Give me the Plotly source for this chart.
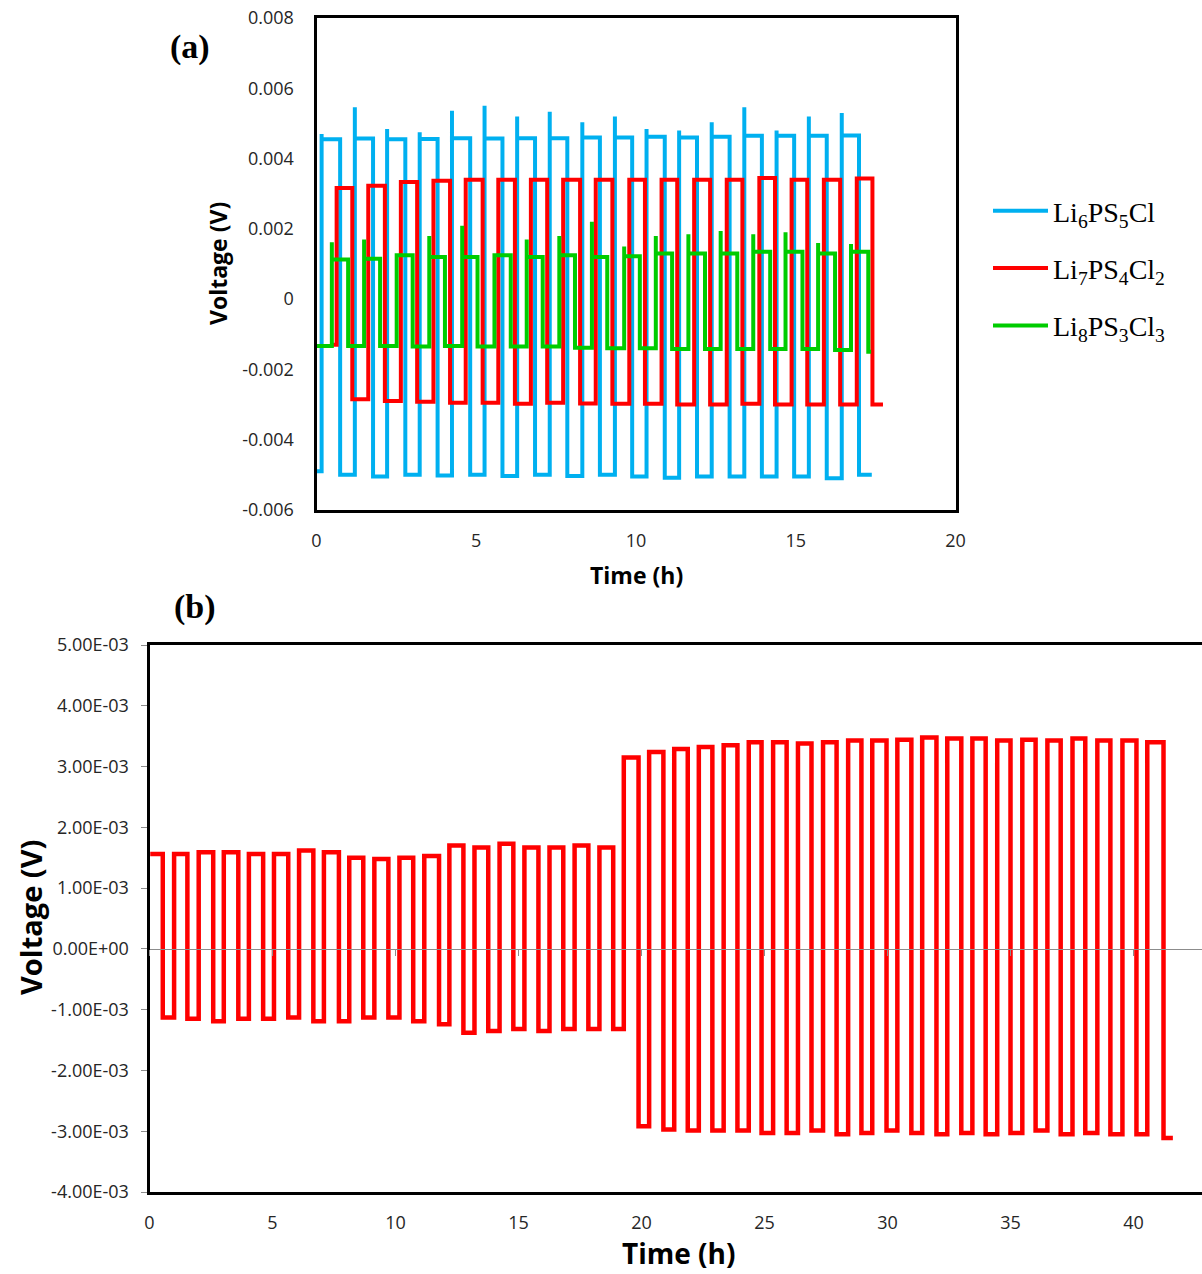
import plotly.graph_objects as go

# ---------------- Panel (a) data (time in h, voltage in V) ----------------
blue_name = "Li<sub>6</sub>PS<sub>5</sub>Cl"
blue_start = (0.0, -0.0049)
blue_end_t = 17.38
blue_rise_t = [0.16, 1.20, 2.21, 3.23, 4.24, 5.26, 6.28, 7.30, 8.32, 9.34, 10.33, 11.35, 12.37, 13.39, 14.40, 15.41, 16.44]
blue_fall_t = [0.74, 1.77, 2.78, 3.79, 4.81, 5.82, 6.84, 7.85, 8.87, 9.88, 10.90, 11.91, 12.93, 13.94, 14.95, 15.97, 16.98]
blue_high_v = [0.00455, 0.00457, 0.00455, 0.00456, 0.00458, 0.00457, 0.00458, 0.00458, 0.00460, 0.00460,
               0.00462, 0.00460, 0.00462, 0.00465, 0.00465, 0.00465, 0.00466]
blue_spike_v = [0.00470, 0.00546, 0.00484, 0.00475, 0.00536, 0.00550, 0.00520, 0.00533, 0.00503, 0.00520,
                0.00484, 0.00480, 0.00503, 0.00546, 0.00480, 0.00520, 0.00530]
blue_low_v = [-0.00500, -0.00505, -0.00500, -0.00502, -0.00500, -0.00503, -0.00500, -0.00503, -0.00500, -0.00505,
              -0.00508, -0.00505, -0.00505, -0.00505, -0.00505, -0.00510, -0.00500]

red_name = "Li<sub>7</sub>PS<sub>4</sub>Cl<sub>2</sub>"
red_start = (0.50, -0.0013)
red_end_t = 17.73
red_rise_t = [0.63, 1.62, 2.64, 3.66, 4.67, 5.69, 6.71, 7.72, 8.74, 9.79, 10.80, 11.82, 12.84, 13.86, 14.87, 15.88, 16.91]
red_fall_t = [1.12, 2.14, 3.15, 4.18, 5.20, 6.21, 7.22, 8.25, 9.26, 10.28, 11.29, 12.32, 13.33, 14.35, 15.36, 16.39, 17.40]
red_high_v = [0.00316, 0.00323, 0.00333, 0.00337, 0.00340, 0.00340, 0.00340, 0.00340, 0.00340, 0.00340,
              0.00340, 0.00340, 0.00340, 0.00345, 0.00340, 0.00340, 0.00343]
red_low_v = [-0.00285, -0.00290, -0.00292, -0.00295, -0.00295, -0.00298, -0.00295, -0.00297, -0.00298, -0.00298,
             -0.00300, -0.00300, -0.00298, -0.00300, -0.00300, -0.00300, -0.00300]

green_name = "Li<sub>8</sub>PS<sub>3</sub>Cl<sub>3</sub>"
green_start = (0.0, -0.00133)
green_end_t = 17.36
green_rise_t = [0.48, 1.49, 2.51, 3.53, 4.56, 5.57, 6.58, 7.60, 8.62, 9.63, 10.62, 11.64, 12.65, 13.67, 14.68, 15.70, 16.73]
green_fall_t = [0.99, 1.99, 3.01, 4.02, 5.04, 6.08, 7.08, 8.09, 9.10, 10.12, 11.13, 12.16, 13.17, 14.20, 15.21, 16.23, 17.27]
green_high_v = [0.00113, 0.00115, 0.00125, 0.00120, 0.00120, 0.00125, 0.00120, 0.00125, 0.00120, 0.00122,
                0.00130, 0.00130, 0.00130, 0.00135, 0.00135, 0.00130, 0.00135]
green_spike_v = [0.00162, 0.00170, 0.00125, 0.00180, 0.00209, 0.00125, 0.00170, 0.00180, 0.00220, 0.00150,
                 0.00180, 0.00185, 0.00194, 0.00185, 0.00190, 0.00160, 0.00157]
green_low_v = [-0.00133, -0.00133, -0.00135, -0.00133, -0.00135, -0.00135, -0.00135, -0.00138, -0.00140, -0.00140,
               -0.00142, -0.00142, -0.00142, -0.00142, -0.00142, -0.00145, -0.00150]

a_xticks = [0, 5, 10, 15, 20]
a_yticks = [-0.006, -0.004, -0.002, 0, 0.002, 0.004, 0.006, 0.008]
a_yticktext = ["-0.006", "-0.004", "-0.002", "0", "0.002", "0.004", "0.006", "0.008"]

# ---------------- Panel (b) data ----------------
b_start_t = 0.03
b_end_t = 41.60
b_rise_t = [1.00, 2.00, 3.02, 4.04, 5.06, 6.08, 7.09, 8.12, 9.14, 10.16, 11.17, 12.19, 13.21, 14.23, 15.24,
            16.26, 17.28, 18.29, 19.28, 20.31, 21.33, 22.33, 23.34, 24.36, 25.35, 26.36, 27.38, 28.40, 29.38,
            30.40, 31.41, 32.43, 33.45, 34.46, 35.48, 36.50, 37.52, 38.53, 39.55, 40.56]
b_fall_t = [0.54, 1.54, 2.59, 3.61, 4.62, 5.64, 6.66, 7.70, 8.69, 9.71, 10.72, 11.77, 12.76, 13.77, 14.79,
            15.81, 16.82, 17.84, 18.85, 19.88, 20.89, 21.88, 22.88, 23.90, 24.88, 25.90, 26.91, 27.93, 28.94,
            29.96, 30.97, 31.99, 33.00, 33.99, 35.00, 36.02, 37.04, 38.04, 39.06, 40.12, 41.22]
b_high_v = [1.56e-3, 1.56e-3, 1.59e-3, 1.59e-3, 1.56e-3, 1.56e-3, 1.62e-3, 1.59e-3, 1.50e-3, 1.48e-3,
            1.50e-3, 1.53e-3, 1.70e-3, 1.67e-3, 1.73e-3, 1.67e-3, 1.67e-3, 1.70e-3, 1.67e-3,
            3.15e-3, 3.24e-3, 3.29e-3, 3.32e-3, 3.35e-3, 3.40e-3, 3.40e-3, 3.38e-3, 3.40e-3, 3.43e-3,
            3.43e-3, 3.44e-3, 3.48e-3, 3.46e-3, 3.46e-3, 3.43e-3, 3.44e-3, 3.43e-3, 3.46e-3, 3.43e-3,
            3.43e-3, 3.40e-3]
b_low_v = [-1.13e-3, -1.15e-3, -1.19e-3, -1.15e-3, -1.15e-3, -1.13e-3, -1.19e-3, -1.19e-3, -1.13e-3, -1.13e-3,
           -1.19e-3, -1.24e-3, -1.38e-3, -1.35e-3, -1.32e-3, -1.35e-3, -1.32e-3, -1.32e-3, -1.32e-3,
           -2.92e-3, -2.97e-3, -2.99e-3, -2.99e-3, -2.99e-3, -3.03e-3, -3.03e-3, -2.99e-3, -3.05e-3, -3.03e-3,
           -2.99e-3, -3.03e-3, -3.05e-3, -3.03e-3, -3.05e-3, -3.03e-3, -2.99e-3, -3.05e-3, -3.03e-3, -3.05e-3,
           -3.05e-3, -3.11e-3]

b_xticks = [0, 5, 10, 15, 20, 25, 30, 35, 40]
b_yticks = [-0.004, -0.003, -0.002, -0.001, 0.0, 0.001, 0.002, 0.003, 0.004, 0.005]
b_yticktext = ["-4.00E-03", "-3.00E-03", "-2.00E-03", "-1.00E-03", "0.00E+00",
               "1.00E-03", "2.00E-03", "3.00E-03", "4.00E-03", "5.00E-03"]


def step_series(t0, v0, rises, falls, rise_levels, fall_levels, t_end, spikes=None):
    """Connect the read-off switching times and plateau levels into a step trace."""
    events = sorted([(t, 0, i) for i, t in enumerate(rises)] + [(t, 1, i) for i, t in enumerate(falls)])
    xs, ys = [t0], [v0]
    level = v0
    for t, kind, i in events:
        xs.append(t)
        ys.append(level)
        if kind == 0:
            if spikes is not None:
                xs.append(t)
                ys.append(spikes[i])
            level = rise_levels[i]
        else:
            level = fall_levels[i]
        xs.append(t)
        ys.append(level)
    xs.append(t_end)
    ys.append(level)
    return xs, ys


BLUE, RED, GREEN = "#00B0F0", "#FF0000", "#00CC00"

fig = go.Figure()

bx, by = step_series(*blue_start, blue_rise_t, blue_fall_t, blue_high_v, blue_low_v, blue_end_t, blue_spike_v)
rx, ry = step_series(*red_start, red_rise_t, red_fall_t, red_high_v, red_low_v, red_end_t)
gx, gy = step_series(*green_start, green_rise_t, green_fall_t, green_high_v, green_low_v, green_end_t, green_spike_v)

fig.add_trace(go.Scatter(x=bx, y=by, mode="lines", name=blue_name, legendgroup="g1",
                         line=dict(color=BLUE, width=4), xaxis="x", yaxis="y"))
fig.add_trace(go.Scatter(x=rx, y=ry, mode="lines", name=red_name, legendgroup="g2",
                         line=dict(color=RED, width=4), xaxis="x", yaxis="y"))
fig.add_trace(go.Scatter(x=gx, y=gy, mode="lines", name=green_name, legendgroup="g3",
                         line=dict(color=GREEN, width=4), xaxis="x", yaxis="y"))

b_rise_levels = b_high_v[1:]
pbx, pby = step_series(b_start_t, b_high_v[0], b_rise_t, b_fall_t, b_rise_levels, b_low_v, b_end_t)
fig.add_trace(go.Scatter(x=pbx, y=pby, mode="lines", showlegend=False,
                         line=dict(color=RED, width=4.5), xaxis="x2", yaxis="y2"))
# carrier for the zero-crossing tick axis
fig.add_trace(go.Scatter(x=[None], y=[None], mode="lines", showlegend=False, hoverinfo="skip",
                         xaxis="x3", yaxis="y2"))

W, H = 1202, 1274
TICKFONT = dict(family="Open Sans", size=18, color="#262626")

a_x0, a_x1, a_top, a_bot = 316.5, 955.5, 18, 510
b_x0, b_top, b_bot = 149.5, 645, 1192
b_xmax = (W - b_x0) / 24.6
b_ydom = [1 - b_bot / H, 1 - b_top / H]
zero_pos = b_ydom[0] + (0 - (-0.004)) / 0.009 * (b_ydom[1] - b_ydom[0])

fig.update_layout(
    width=W, height=H,
    margin=dict(l=0, r=0, t=0, b=0, autoexpand=False),
    paper_bgcolor="white", plot_bgcolor="white",
    font=dict(family="Open Sans", color="#262626"),
    xaxis=dict(domain=[a_x0 / W, a_x1 / W], range=[0, 20], tickvals=a_xticks, anchor="y",
               showline=True, mirror=True, linecolor="black", linewidth=3, ticks="",
               showgrid=False, zeroline=False, tickfont=TICKFONT, ticklabelstandoff=12),
    yaxis=dict(domain=[1 - a_bot / H, 1 - a_top / H], range=[-0.006, 0.008], tickvals=a_yticks,
               ticktext=a_yticktext, anchor="x",
               showline=True, mirror=True, linecolor="black", linewidth=3, ticks="",
               showgrid=False, zeroline=False, tickfont=TICKFONT, ticklabelstandoff=16),
    xaxis2=dict(domain=[b_x0 / W, 1.0], range=[0, b_xmax], tickvals=b_xticks, anchor="y2",
                showline=True, mirror=True, linecolor="black", linewidth=3, ticks="",
                showgrid=False, zeroline=False, tickfont=TICKFONT, ticklabelstandoff=12),
    xaxis3=dict(overlaying="x2", anchor="free", position=zero_pos, range=[0, b_xmax], tickvals=b_xticks,
                showline=True, linecolor="#8C8C8C", linewidth=1, ticks="outside", ticklen=6,
                tickcolor="#8C8C8C", tickwidth=1, showticklabels=False, showgrid=False, zeroline=False),
    yaxis2=dict(domain=b_ydom, range=[-0.004, 0.005], tickvals=b_yticks, ticktext=b_yticktext,
                anchor="x2", showline=True, mirror=False, linecolor="black", linewidth=3,
                ticks="outside", ticklen=6, tickcolor="#8C8C8C", tickwidth=1,
                showgrid=False, zeroline=False, tickfont=TICKFONT, ticklabelstandoff=8),
    legend=dict(x=988 / W, y=1 - 186 / H, xanchor="left", yanchor="top",
                font=dict(family="Liberation Serif", size=28, color="black"),
                bgcolor="rgba(0,0,0,0)", tracegroupgap=18, itemwidth=55),
    showlegend=True,
)

ann_title = dict(family="Open Sans", color="black")
annotations = [
    dict(text="<b>(a)</b>", x=190 / W, y=1 - 47 / H, font=dict(family="Liberation Serif", size=34, color="black")),
    dict(text="<b>(b)</b>", x=195 / W, y=1 - 607 / H, font=dict(family="Liberation Serif", size=34, color="black")),
    dict(text="<b>Voltage (V)</b>", x=218 / W, y=1 - 264 / H, textangle=-90, font=dict(size=23, **ann_title)),
    dict(text="<b>Time (h)</b>", x=636 / W, y=1 - 575 / H, font=dict(size=23, **ann_title)),
    dict(text="<b>Voltage (V)</b>", x=31 / W, y=1 - 918 / H, textangle=-90, font=dict(size=29, **ann_title)),
]
for a in annotations:
    a.update(xref="paper", yref="paper", showarrow=False, xanchor="center", yanchor="middle")
annotations.append(dict(text="<b>Time (h)</b>", x=678 / W, y=1 / H, xref="paper", yref="paper",
                        showarrow=False, xanchor="center", yanchor="bottom", borderpad=0,
                        font=dict(size=28, **ann_title)))
fig.update_layout(annotations=annotations)

fig.write_html("out.html")
